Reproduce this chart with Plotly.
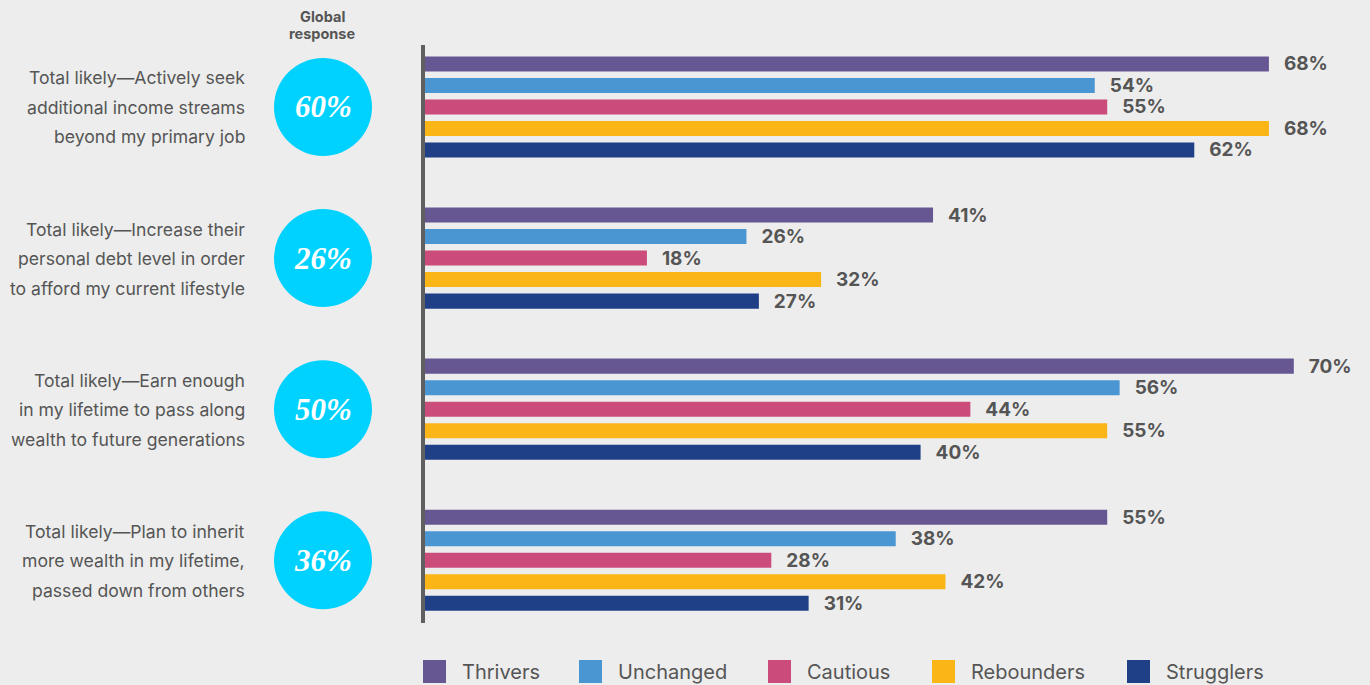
import plotly.graph_objects as go

# ---- data ----
questions = ["Q1", "Q2", "Q3", "Q4"]
question_lines = [
    ["Total likely\u2014Actively seek", "additional income streams", "beyond my primary job"],
    ["Total likely\u2014Increase their", "personal debt level in order", "to afford my current lifestyle"],
    ["Total likely\u2014Earn enough", "in my lifetime to pass along", "wealth to future generations"],
    ["Total likely\u2014Plan to inherit", "more wealth in my lifetime,", "passed down from others"],
]
global_response = [60, 26, 50, 36]

series_names = ["Thrivers", "Unchanged", "Cautious", "Rebounders", "Strugglers"]
thrivers = [68, 41, 70, 55]
unchanged = [54, 26, 56, 38]
cautious = [55, 18, 44, 28]
rebounders = [68, 32, 55, 42]
strugglers = [62, 27, 40, 31]
series_values = [thrivers, unchanged, cautious, rebounders, strugglers]
series_colors = ["#665793", "#4A96D3", "#CB4B7A", "#FBB516", "#1F3F87"]

BG = "#EDEDED"
TXT = "#555555"
SANS = "Inter, Roboto, sans-serif"

fig = go.Figure()
for name, vals, col in zip(series_names, series_values, series_colors):
    fig.add_trace(go.Bar(
        y=questions, x=vals, name=name, orientation="h",
        marker=dict(color=col, line=dict(width=0)),
        text=vals, texttemplate="\u00a0\u00a0\u2009%{x}%", textposition="outside",
        textfont=dict(family=SANS, size=19, color=TXT, weight="bold"),
        constraintext="none", cliponaxis=False, showlegend=False,
        hoverinfo="skip",
    ))

shapes = []
annotations = []

# axis line
shapes.append(dict(type="line", xref="paper", yref="paper", x0=0, x1=0, y0=0, y1=1,
                   line=dict(color="#5F5F5F", width=4), layer="above"))

CIRCLE_DX = -100
for i, q in enumerate(questions):
    shapes.append(dict(type="circle", xref="paper", yref="y",
                       xsizemode="pixel", ysizemode="pixel",
                       xanchor=0, yanchor=i,
                       x0=CIRCLE_DX - 49, x1=CIRCLE_DX + 49, y0=-49, y1=49,
                       fillcolor="#00D2FF", line=dict(width=0), layer="above"))
    annotations.append(dict(xref="paper", yref="y", x=0, y=i, xshift=CIRCLE_DX, yshift=0,
                            text=f"<i>{global_response[i]}%</i>", showarrow=False,
                            xanchor="center", yanchor="middle",
                            font=dict(family="Liberation Serif", size=31, color="white",
                                      weight="bold")))
    for j, line in enumerate(question_lines[i]):
        annotations.append(dict(xref="paper", yref="y", x=0, y=i, xshift=-176,
                                yshift=29 - 29.5 * j, text=line, showarrow=False,
                                xanchor="right", yanchor="middle",
                                font=dict(family=SANS, size=17.6, color=TXT)))

# header
annotations.append(dict(xref="paper", yref="paper", x=0, y=1, xshift=CIRCLE_DX - 1, yshift=29,
                        text="<b>Global</b>", showarrow=False, xanchor="center", yanchor="middle",
                        font=dict(family=SANS, size=14.5, color=TXT)))
annotations.append(dict(xref="paper", yref="paper", x=0, y=1, xshift=CIRCLE_DX - 1, yshift=12,
                        text="<b>response</b>", showarrow=False, xanchor="center", yanchor="middle",
                        font=dict(family=SANS, size=14.5, color=TXT)))

# legend (manual)
PLOT_W = 1370 - 423 - 14
legend_px = [0, 156, 345, 509, 704]
for name, col, px in zip(series_names, series_colors, legend_px):
    shapes.append(dict(type="rect", xref="paper", yref="paper",
                       xsizemode="pixel", ysizemode="pixel",
                       xanchor=px / PLOT_W, yanchor=0,
                       x0=0, x1=23, y0=-60, y1=-37,
                       fillcolor=col, line=dict(width=0)))
    annotations.append(dict(xref="paper", yref="paper", x=px / PLOT_W, y=0, xshift=37, yshift=-49,
                            text=name, showarrow=False, xanchor="left", yanchor="middle",
                            font=dict(family=SANS, size=20, color=TXT)))

fig.update_layout(
    width=1370, height=685,
    margin=dict(l=423, r=14, t=45, b=62),
    paper_bgcolor=BG, plot_bgcolor=BG,
    barmode="group", bargap=0.288, bargroupgap=0.30,
    xaxis=dict(range=[0, 75], visible=False, fixedrange=True),
    yaxis=dict(range=[3.415, -0.41], visible=False, fixedrange=True,
               categoryorder="array", categoryarray=questions),
    shapes=shapes, annotations=annotations,
    showlegend=False,
)

fig.write_html(
    "out.html",
    config={"displayModeBar": False},
    post_script="document.body.style.margin='0';document.body.style.padding='0';"
                "document.body.style.overflow='hidden';",
)
